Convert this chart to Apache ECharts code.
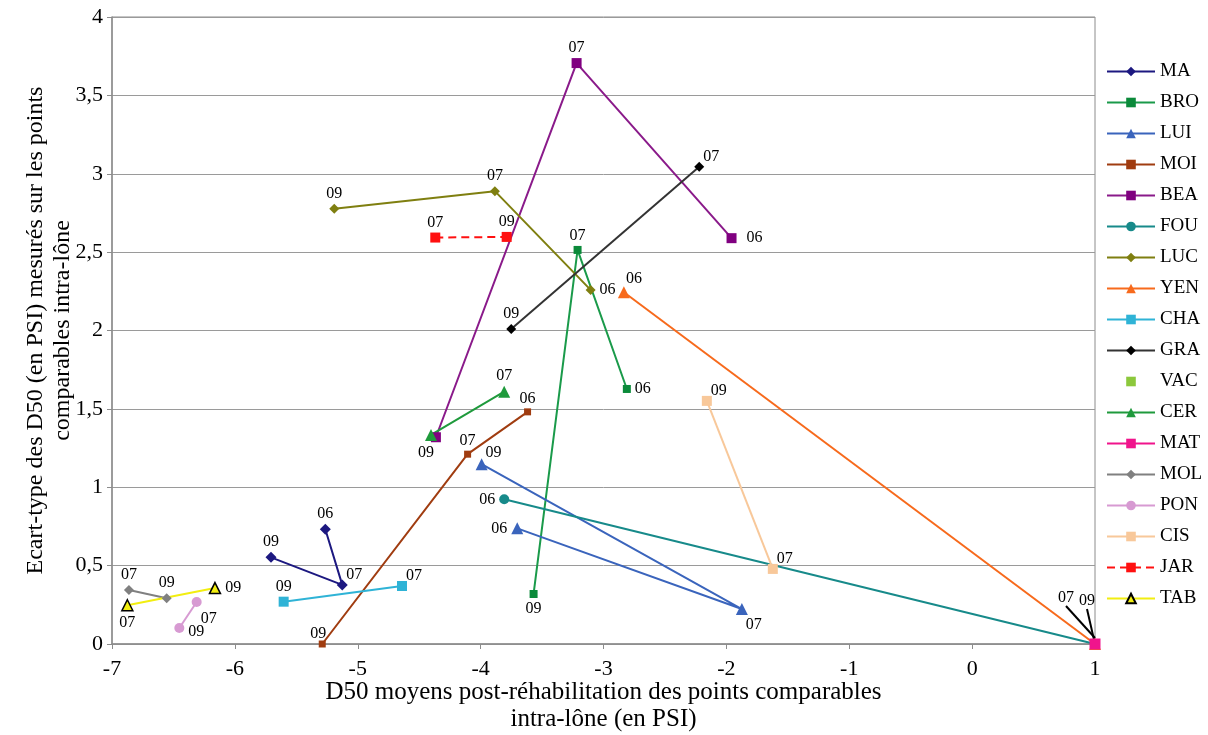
<!DOCTYPE html>
<html><head><meta charset="utf-8">
<script src="https://cdn.jsdelivr.net/npm/echarts@6/dist/echarts.min.js"></script>
<style>html,body{margin:0;padding:0;background:#fff}#c{width:1208px;height:735px}</style>
</head><body><div id="c"></div>
<script>
// Series names (legend order)
const seriesNames = ['MA','BRO','LUI','MOI','BEA','FOU','LUC','YEN','CHA','GRA','VAC','CER','MAT','MOL','PON','CIS','JAR','TAB'];
// Data: [D50 moyen, écart-type, année]
const MA  = [[-5.264,0.732,'06'],[-5.126,0.377,'07'],[-5.706,0.553,'09']];
const BRO = [[-3.569,0.319,'09'],[-3.211,2.514,'07'],[-2.810,1.627,'06']];
const LUI = [[-3.702,0.738,'06'],[-1.874,0.223,'07'],[-3.992,1.147,'09']];
const MOI = [[-5.289,0.000,'09'],[-4.106,1.211,'07'],[-3.618,1.481,'06']];
const BEA = [[-4.364,1.319,'09'],[-3.219,3.706,'07'],[-1.958,2.589,'06']];
const FOU = [[-3.808,0.923,'06'],[1.000,0.000,'09']];
const LUC = [[-5.191,2.776,'09'],[-3.884,2.889,'07'],[-3.105,2.259,'06']];
const YEN = [[-2.834,2.244,'06'],[1.000,0.000,'07']];
const CHA = [[-5.603,0.270,'09'],[-4.640,0.370,'07']];
const GRA = [[-3.751,2.010,'09'],[-2.221,3.044,'07']];
const VAC = [];
const CER = [[-4.404,1.334,'09'],[-3.808,1.610,'07']];
const MAT = [[1.000,0.000,'']];
const MOL = [[-6.862,0.345,'07'],[-6.555,0.292,'09']];
const PON = [[-6.311,0.268,'07'],[-6.452,0.102,'09']];
const CIS = [[-2.159,1.551,'09'],[-1.622,0.479,'07']];
const JAR = [[-4.369,2.593,'07'],[-3.788,2.597,'09']];
const TAB = [[-6.875,0.247,'07'],[-6.162,0.357,'09']];
const xTicks = [-7,-6,-5,-4,-3,-2,-1,0,1];
const yTicks = [0,0.5,1,1.5,2,2.5,3,3.5,4];

const dataMap = {MA,BRO,LUI,MOI,BEA,FOU,LUC,YEN,CHA,GRA,VAC,CER,MAT,MOL,PON,CIS,JAR,TAB};

// Styles
const styles = {
  MA:  {color:'#1c1880', line:'#1c1880', symbol:'diamond', size:11},
  BRO: {color:'#0b8a3a', line:'#1a9a4a', symbol:'rect', size:8},
  LUI: {color:'#3a64bc', line:'#3a64bc', symbol:'triangle', size:12},
  MOI: {color:'#a03c10', line:'#a03c10', symbol:'rect', size:7},
  BEA: {color:'#800080', line:'#8a1a8a', symbol:'rect', size:10},
  FOU: {color:'#178a8a', line:'#178a8a', symbol:'circle', size:10},
  LUC: {color:'#7f7f10', line:'#7f7f10', symbol:'diamond', size:10},
  YEN: {color:'#f76a1c', line:'#f76a1c', symbol:'triangle', size:12},
  CHA: {color:'#2fb3d6', line:'#2fb3d6', symbol:'rect', size:10},
  GRA: {color:'#000000', line:'#333333', symbol:'diamond', size:10},
  VAC: {color:'#8cc83c', line:'#8cc83c', symbol:'rect', size:7, noLine:true},
  CER: {color:'#1f9a3c', line:'#1f9a3c', symbol:'triangle', size:12},
  MAT: {color:'#f0148c', line:'#f0148c', symbol:'rect', size:11},
  MOL: {color:'#808080', line:'#808080', symbol:'diamond', size:10},
  PON: {color:'#d79ad2', line:'#d79ad2', symbol:'circle', size:10},
  CIS: {color:'#f8c89a', line:'#f8c89a', symbol:'rect', size:10},
  JAR: {color:'#ff1010', line:'#ff1010', symbol:'rect', size:10, dash:true},
  TAB: {color:'#f2ee10', line:'#f2ee10', symbol:'triangle', size:11, border:'#000'}
};
// Label placement per point (style only)
const labelPlace = {
  MA:['t','tr','t'], BRO:['b','t','r'], LUI:['l','br2','tr'], MOI:['tl','t','t'],
  BEA:['bl','t','r2'], FOU:['l','lead09'], LUC:['t','t','r'], YEN:['tr2','lead07'],
  CHA:['t','tr'], GRA:['t','tr'], CER:['none','t'], MAT:['none'], MOL:['t','t'],
  PON:['br3','rb'], CIS:['tr','tr'], JAR:['t','t'], TAB:['b','r']
};
// label layout shifts (dx, dy) applied after positioning
const shifts = {
  tr:[12,4], tr2:[10,2], tl:[-4,2], br2:[12,1], br3:[12,3], bl:[-10,2], rb:[0,4],
  lead07:[-29,-31], lead09:[-8,-29]
};
function placement(code){
  switch(code){
    case 't': return {position:'top', distance:2};
    case 'b': return {position:'bottom', distance:3};
    case 'l': return {position:'left', distance:4};
    case 'r': case 'rb': return {position:'right', distance:4};
    case 'r2': return {position:'right', distance:10};
    case 'tr': case 'tr2': case 'tl': case 'lead07': case 'lead09': return {position:'top', distance:1};
    case 'br2': case 'br3': case 'bl': return {position:'bottom', distance:1};
    default: return {show:false};
  }
}
const labelFont = {fontFamily:'Liberation Serif', fontSize:16, color:'#000'};

const series = seriesNames.map(name => {
  const st = styles[name];
  const pts = dataMap[name];
  const places = labelPlace[name] || [];
  return {
    name, type: 'line',
    symbol: st.symbol, symbolSize: st.size,
    itemStyle: {color: st.color, borderColor: st.border || st.color, borderWidth: st.border ? 1.5 : 0, opacity:1},
    lineStyle: {color: st.line, width: 2, type: st.dash ? [8,5] : 'solid', opacity: st.noLine ? 0 : 1},
    label: Object.assign({show:true, formatter: p => p.data.value[2]}, labelFont),
    labelLine: {show:false, lineStyle:{color:'#000', width:2}},
    labelLayout: function(params){
      const code = places[params.dataIndex];
      const s = shifts[code];
      return s ? {dx: s[0], dy: s[1]} : {};
    },
    emphasis: {disabled:true},
    data: pts.map((p,i) => {
      const item = {value: p, label: placement(places[i])};
      if (places[i] === 'lead07' || places[i] === 'lead09') {
        item.labelLine = {show:true, lineStyle:{color:'#000', width:2}};
      }
      return item;
    }),
    z: 2
  };
});

const chart = echarts.init(document.getElementById('c'), null, {renderer:'canvas'});
const fmt = v => String(v).replace('.', ',');
chart.setOption({
  animation:false,
  backgroundColor:'#fff',
  grid:{left:112, right:113, top:17, bottom:91, containLabel:false, outerBoundsMode:'none',
        show:true, borderColor:'#8c8c8c', borderWidth:1},
  legend:{
    orient:'vertical', left:1101, top:57, itemWidth:48, itemHeight:12, itemGap:12,
    textStyle:{fontFamily:'Liberation Serif', fontSize:19, color:'#000', lineHeight:19},
    data: seriesNames
  },
  xAxis:{
    type:'value', min:xTicks[0], max:xTicks[xTicks.length-1], interval:1,
    axisLine:{show:true, onZero:false, lineStyle:{color:'#8c8c8c', width:1.5}},
    axisTick:{show:true, length:5, lineStyle:{color:'#8c8c8c'}},
    splitLine:{show:false},
    axisLabel:{fontFamily:'Liberation Serif', fontSize:22, color:'#000', margin:14},
    name:'D50 moyens post-réhabilitation des points comparables\nintra-lône (en PSI)',
    nameLocation:'middle', nameGap:35, nameMoveOverlap:false,
    nameTextStyle:{fontFamily:'Liberation Serif', fontSize:25, color:'#000', lineHeight:27}
  },
  yAxis:{
    type:'value', min:yTicks[0], max:yTicks[yTicks.length-1], interval:0.5,
    axisLine:{show:true, onZero:false, lineStyle:{color:'#8c8c8c', width:1.5}},
    axisTick:{show:true, length:5, lineStyle:{color:'#8c8c8c'}},
    splitLine:{show:true, lineStyle:{color:'#9a9a9a', width:1}},
    axisLabel:{fontFamily:'Liberation Serif', fontSize:22, color:'#000', margin:9, formatter: fmt},
    name:'Ecart-type des D50 (en PSI) mesurés sur les points\ncomparables intra-lône',
    nameLocation:'middle', nameGap:36, nameRotate:90, nameMoveOverlap:false,
    nameTextStyle:{fontFamily:'Liberation Serif', fontSize:24, color:'#000', lineHeight:27}
  },
  series
});
</script>
</body></html>
